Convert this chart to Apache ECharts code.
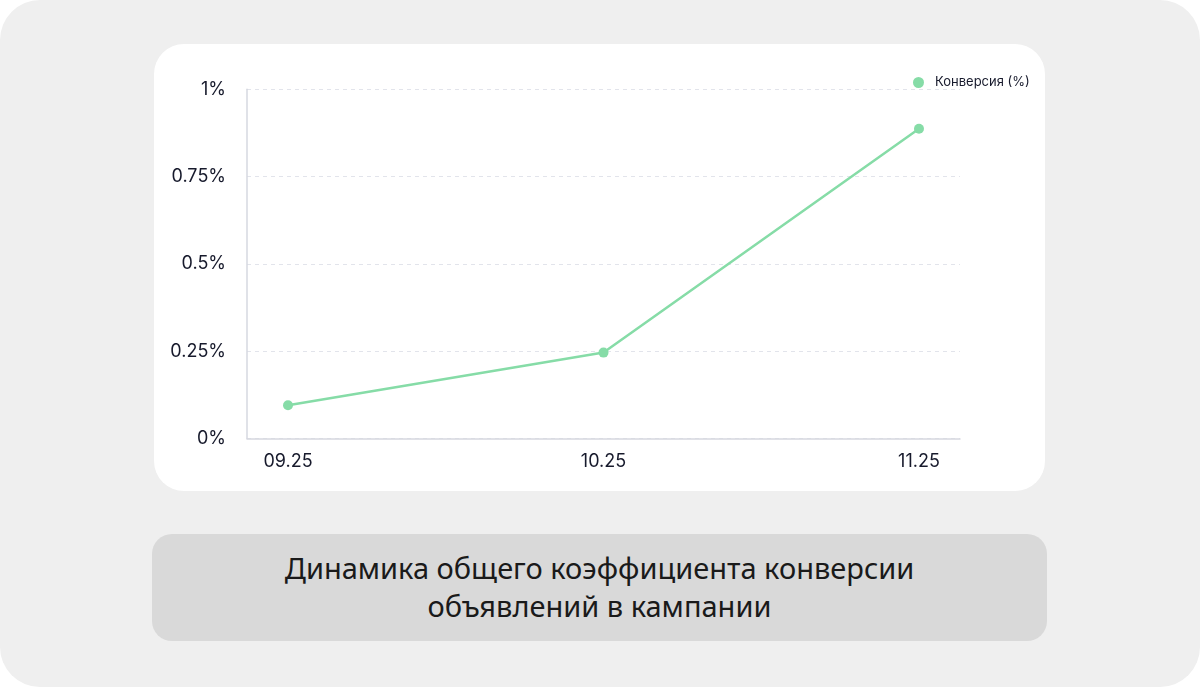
<!DOCTYPE html>
<html>
<head>
<meta charset="utf-8">
<script src="https://cdn.jsdelivr.net/npm/echarts@6/dist/echarts.min.js"></script>
<style>
  html, body { margin: 0; padding: 0; background: #ffffff; width: 1200px; height: 687px; overflow: hidden; }
  #frame { position: absolute; left: 0; top: 0; width: 1200px; height: 687px; background: #efefef; border-radius: 40px; }
  #card { position: absolute; left: 154px; top: 44px; width: 891px; height: 447px; background: #ffffff; border-radius: 30px; }
  #capbox { position: absolute; left: 152px; top: 534px; width: 895px; height: 107px; background: #d9d9d9; border-radius: 20px; }
  #caption { position: absolute; left: 152px; top: 549px; width: 895px; text-align: center; font-family: "Noto Sans", sans-serif; font-size: 29px; line-height: 38px; color: #1a1a1a; font-weight: 400; }
  #chart { position: absolute; left: 0; top: 0; width: 1200px; height: 687px; }
</style>
</head>
<body>
<div id="frame"></div>
<div id="card"></div>
<div id="capbox"></div>
<div id="caption">Динамика общего коэффициента конверсии<br>объявлений в кампании</div>
<div id="chart"></div>
<script>
const categories = ['09.25', '10.25', '11.25'];
const conversion = [0.095, 0.246, 0.887];
const yTicks = [0, 0.25, 0.5, 0.75, 1];
const seriesName = 'Конверсия (%)';

const chart = echarts.init(document.getElementById('chart'), null, { renderer: 'canvas' });
const textColor = '#171a2c';
chart.setOption({
  backgroundColor: 'transparent',
  animation: false,
  legend: {
    data: [seriesName],
    left: 908,
    top: 71,
    icon: 'circle',
    itemWidth: 11,
    itemHeight: 11,
    textStyle: { color: textColor, fontSize: 13, fontFamily: 'Inter', padding: [0, 0, 0, 6] }
  },
  grid: { left: 247, right: 240, top: 89.3, bottom: 248.5, containLabel: false },
  xAxis: {
    type: 'value',
    min: -0.13,
    max: 2.13,
    axisLine: { show: true, onZero: false, lineStyle: { color: '#d6d8e0', width: 1.5 } },
    axisTick: { show: false },
    splitLine: { show: false },
    axisLabel: {
      customValues: categories.map((c, i) => i),
      formatter: v => categories[Math.round(v)] || '',
      color: textColor,
      fontSize: 18,
      fontFamily: 'Inter',
      margin: 14
    }
  },
  yAxis: {
    type: 'value',
    min: yTicks[0],
    max: yTicks[yTicks.length - 1],
    interval: 0.25,
    axisLine: { show: true, onZero: false, lineStyle: { color: '#d6d8e0', width: 1.5 } },
    axisTick: { show: false },
    splitLine: { show: true, lineStyle: { color: '#e2e4eb', type: [4, 4], width: 1 } },
    axisLabel: {
      formatter: v => v + '%',
      color: textColor,
      fontSize: 18,
      fontFamily: 'Inter',
      margin: 21
    }
  },
  series: [{
    name: seriesName,
    type: 'line',
    data: conversion.map((v, i) => [i, v]),
    symbol: 'circle',
    symbolSize: 10,
    itemStyle: { color: '#86dca7' },
    lineStyle: { color: '#86dca7', width: 2.5 }
  }]
});
</script>
</body>
</html>
